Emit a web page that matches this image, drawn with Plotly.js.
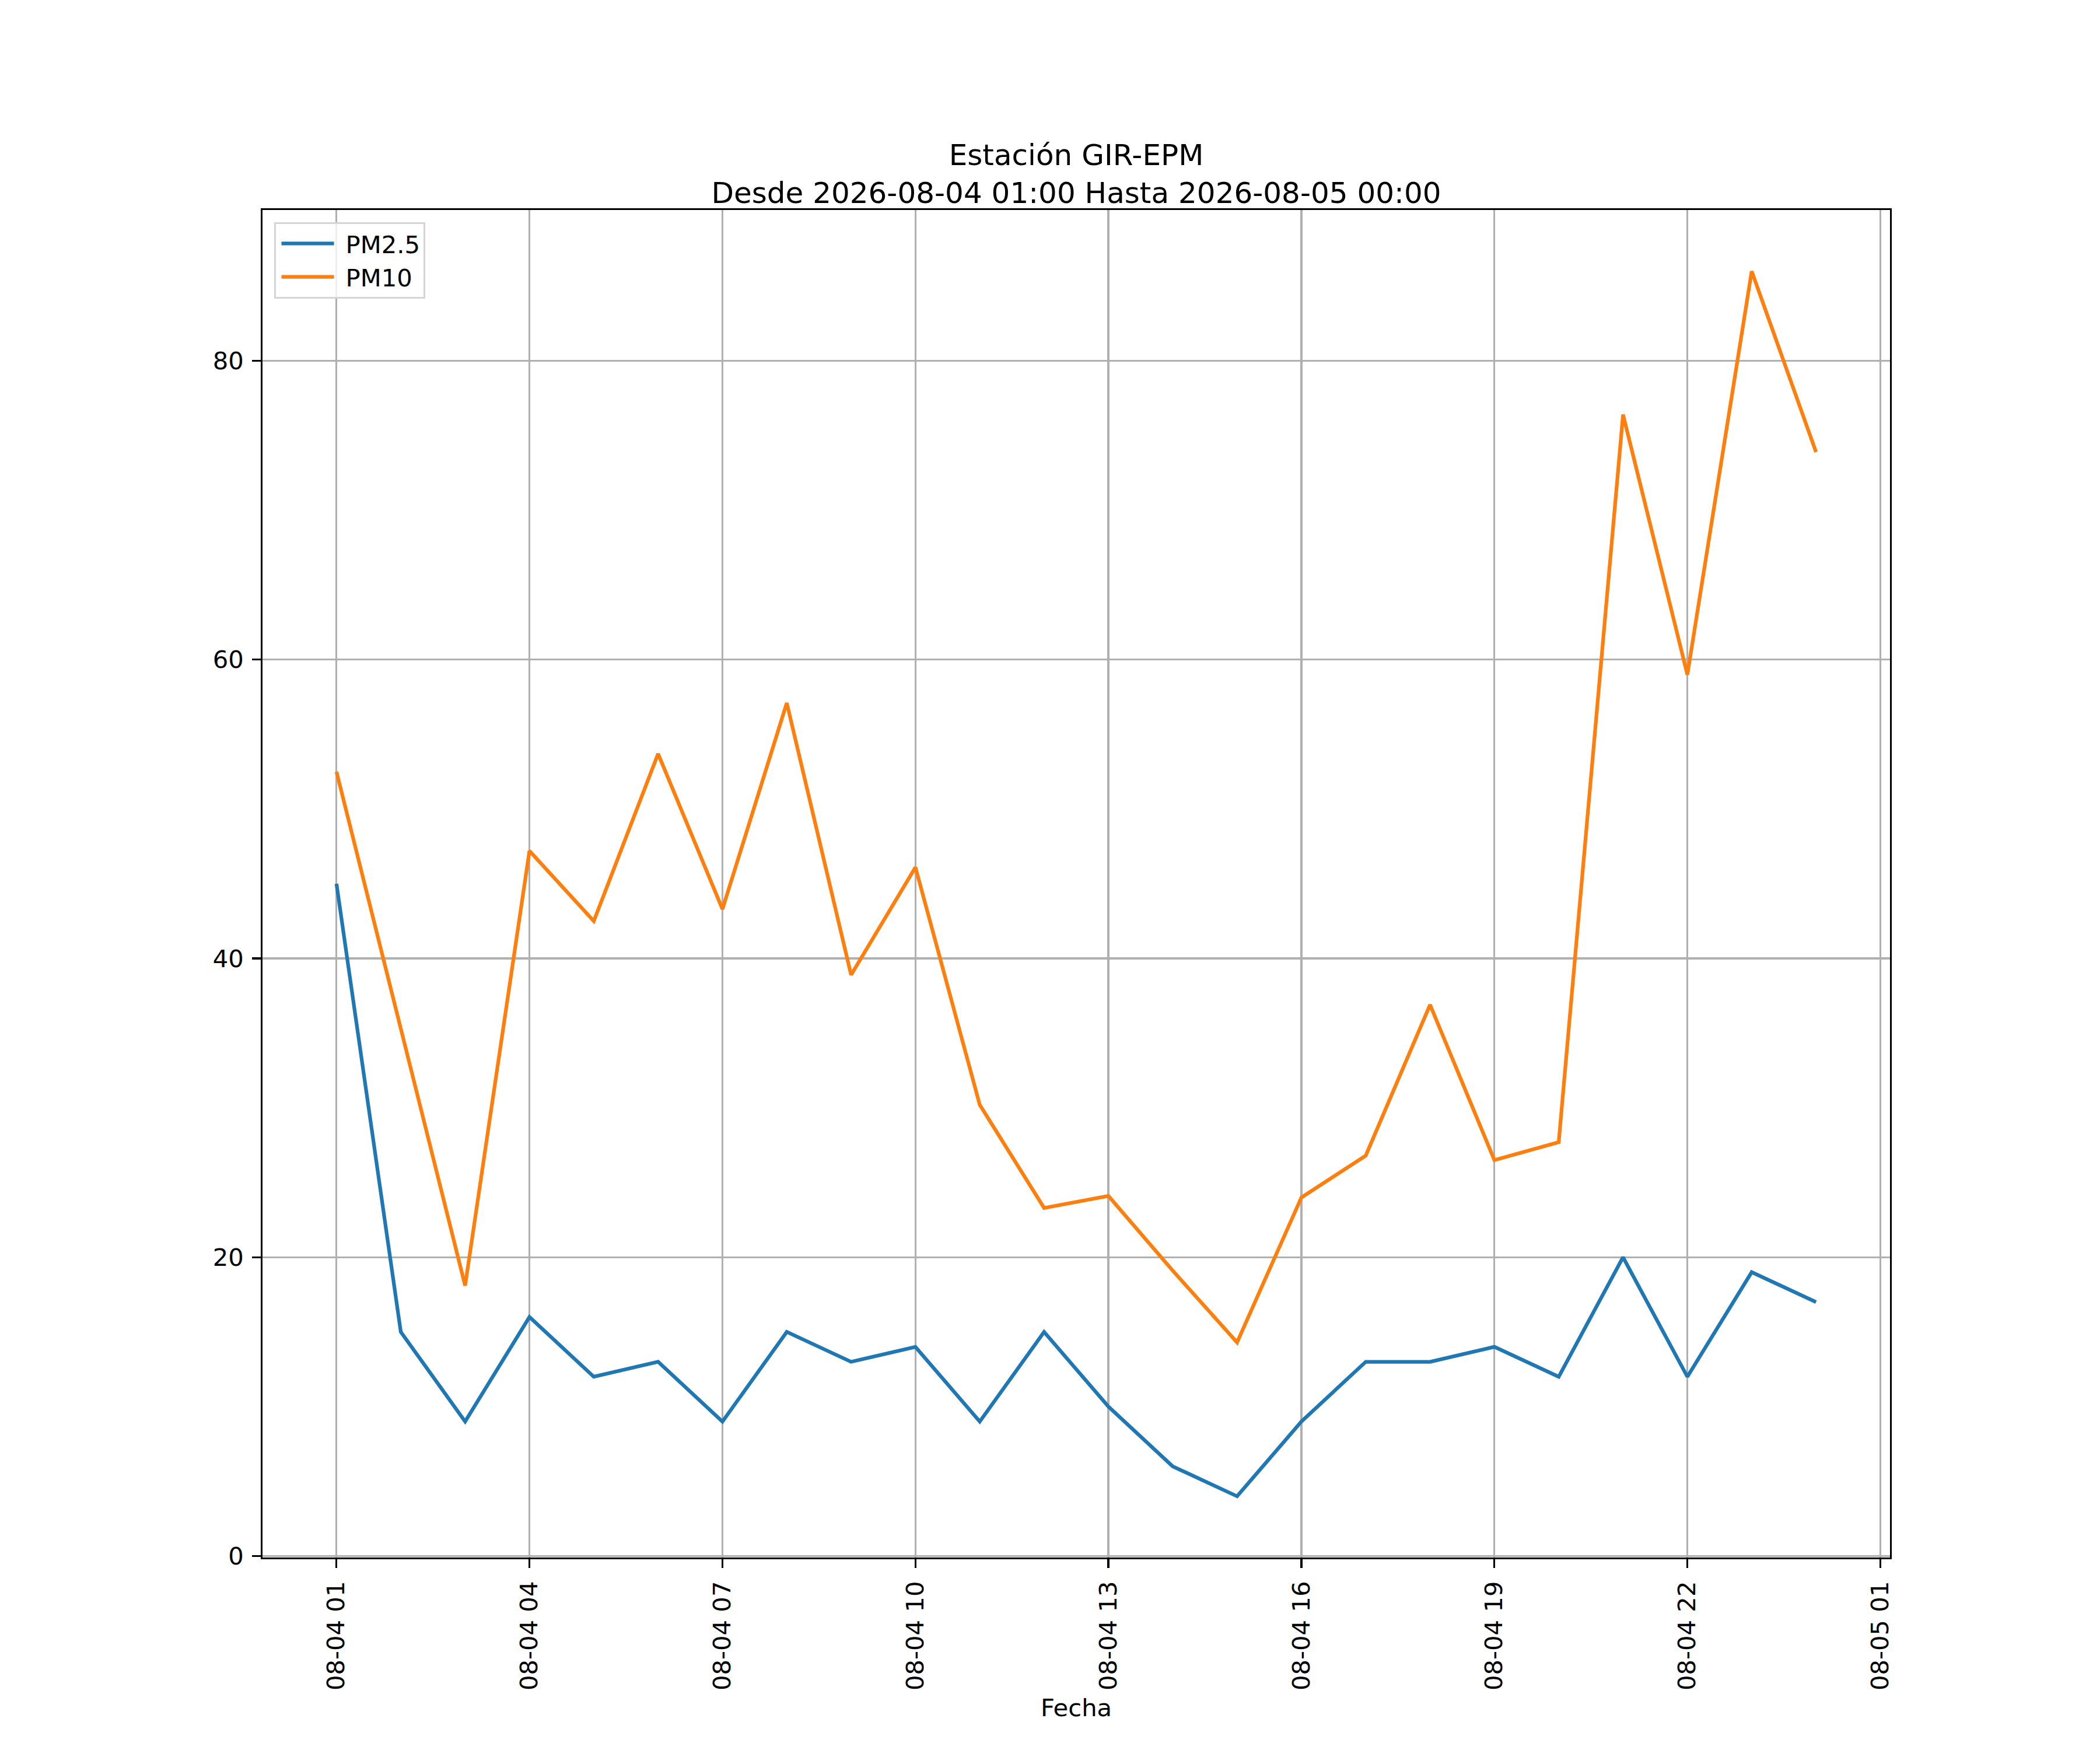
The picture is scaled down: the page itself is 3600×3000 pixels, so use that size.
<!DOCTYPE html>
<html>
<head>
<meta charset="utf-8">
<script src="https://cdn.plot.ly/plotly-3.0.1.min.js"></script>
<style>html,body{margin:0;padding:0;background:#fff;}</style>
</head>
<body>
<div id="chart" style="width:3600px;height:3000px;"></div>
<script>
const fechas = [
  '2026-08-04 01:00','2026-08-04 02:00','2026-08-04 03:00','2026-08-04 04:00',
  '2026-08-04 05:00','2026-08-04 06:00','2026-08-04 07:00','2026-08-04 08:00',
  '2026-08-04 09:00','2026-08-04 10:00','2026-08-04 11:00','2026-08-04 12:00',
  '2026-08-04 13:00','2026-08-04 14:00','2026-08-04 15:00','2026-08-04 16:00',
  '2026-08-04 17:00','2026-08-04 18:00','2026-08-04 19:00','2026-08-04 20:00',
  '2026-08-04 21:00','2026-08-04 22:00','2026-08-04 23:00','2026-08-05 00:00'
];
const pm25 = [45, 15, 9, 16, 12, 13, 9, 15, 13, 14, 9, 15, 10, 6, 4, 9, 13, 13, 14, 12, 20, 12, 19, 17];
const pm10 = [52.5, 35.3, 18.1, 47.2, 42.5, 53.7, 43.3, 57.1, 38.9, 46.1, 30.2, 23.3, 24.1, 19.1, 14.3, 24.0, 26.8, 36.9, 26.5, 27.7, 76.4, 59.0, 86.0, 73.9];
const yTicks = [0, 20, 40, 60, 80];
const xTicks = ['2026-08-04 01:00','2026-08-04 04:00','2026-08-04 07:00','2026-08-04 10:00','2026-08-04 13:00','2026-08-04 16:00','2026-08-04 19:00','2026-08-04 22:00','2026-08-05 01:00'];
const xTickText = ['08-04 01','08-04 04','08-04 07','08-04 10','08-04 13','08-04 16','08-04 19','08-04 22','08-05 01'];

const FONT = 'DejaVu Sans, Liberation Sans, sans-serif';
const FS = 41.7;

const traces = [
  {x: fechas, y: pm25, name: 'PM2.5', type: 'scatter', mode: 'lines',
   line: {color: '#1f77b4', width: 6.25}},
  {x: fechas, y: pm10, name: 'PM10', type: 'scatter', mode: 'lines',
   line: {color: '#ff7f0e', width: 6.25}}
];

const layout = {
  width: 3600, height: 3000,
  paper_bgcolor: '#ffffff', plot_bgcolor: '#ffffff',
  margin: {l: 450, r: 360, t: 360, b: 330, pad: 0},
  font: {family: FONT, size: FS, color: '#000'},
  title: {
    text: 'Estación GIR-EPM<br>Desde 2026-08-04 01:00 Hasta 2026-08-05 00:00',
    font: {family: FONT, size: 50, color: '#000'},
    xref: 'paper', x: 0.5, xanchor: 'center',
    yref: 'container', y: 1 - 283/3000, yanchor: 'bottom'
  },
  showlegend: true,
  legend: {
    x: 0.007, y: 0.991, xanchor: 'left', yanchor: 'top',
    bgcolor: 'rgba(255,255,255,0.8)', bordercolor: '#d5d5d5', borderwidth: 3,
    font: {family: FONT, size: FS, color: '#000'},
    itemwidth: 110,
    tracegroupgap: 0
  },
  xaxis: {
    type: 'date',
    range: ['2026-08-03 23:51', '2026-08-05 01:09'],
    tickmode: 'array', tickvals: xTicks, ticktext: xTickText,
    tickangle: -90,
    ticks: 'outside', ticklen: 14.6, tickwidth: 3.3, tickcolor: '#000',
    ticklabelstandoff: 6,
    showgrid: true, gridcolor: '#b0b0b0', gridwidth: 3.3,
    showline: true, linecolor: '#000', linewidth: 3.3, mirror: true,
    zeroline: false,
    tickfont: {family: FONT, size: FS, color: '#000'},
    title: {text: 'Fecha', font: {family: FONT, size: FS, color: '#000'}, standoff: 16}
  },
  yaxis: {
    range: [-0.1, 90.1],
    tickmode: 'array', tickvals: yTicks, ticktext: yTicks.map(String),
    ticks: 'outside', ticklen: 14.6, tickwidth: 3.3, tickcolor: '#000',
    ticklabelstandoff: 6,
    showgrid: true, gridcolor: '#b0b0b0', gridwidth: 3.3,
    showline: true, linecolor: '#000', linewidth: 3.3, mirror: true,
    zeroline: false,
    tickfont: {family: FONT, size: FS, color: '#000'}
  }
};

Plotly.newPlot('chart', traces, layout, {displayModeBar: false, staticPlot: true}).then(function (gd) {
  // lengthen the legend line samples to match the matplotlib-style legend
  gd.querySelectorAll('.legend .legendlines path').forEach(function (p) {
    p.setAttribute('d', 'M10,0h90');
  });
});
</script>
</body>
</html>
